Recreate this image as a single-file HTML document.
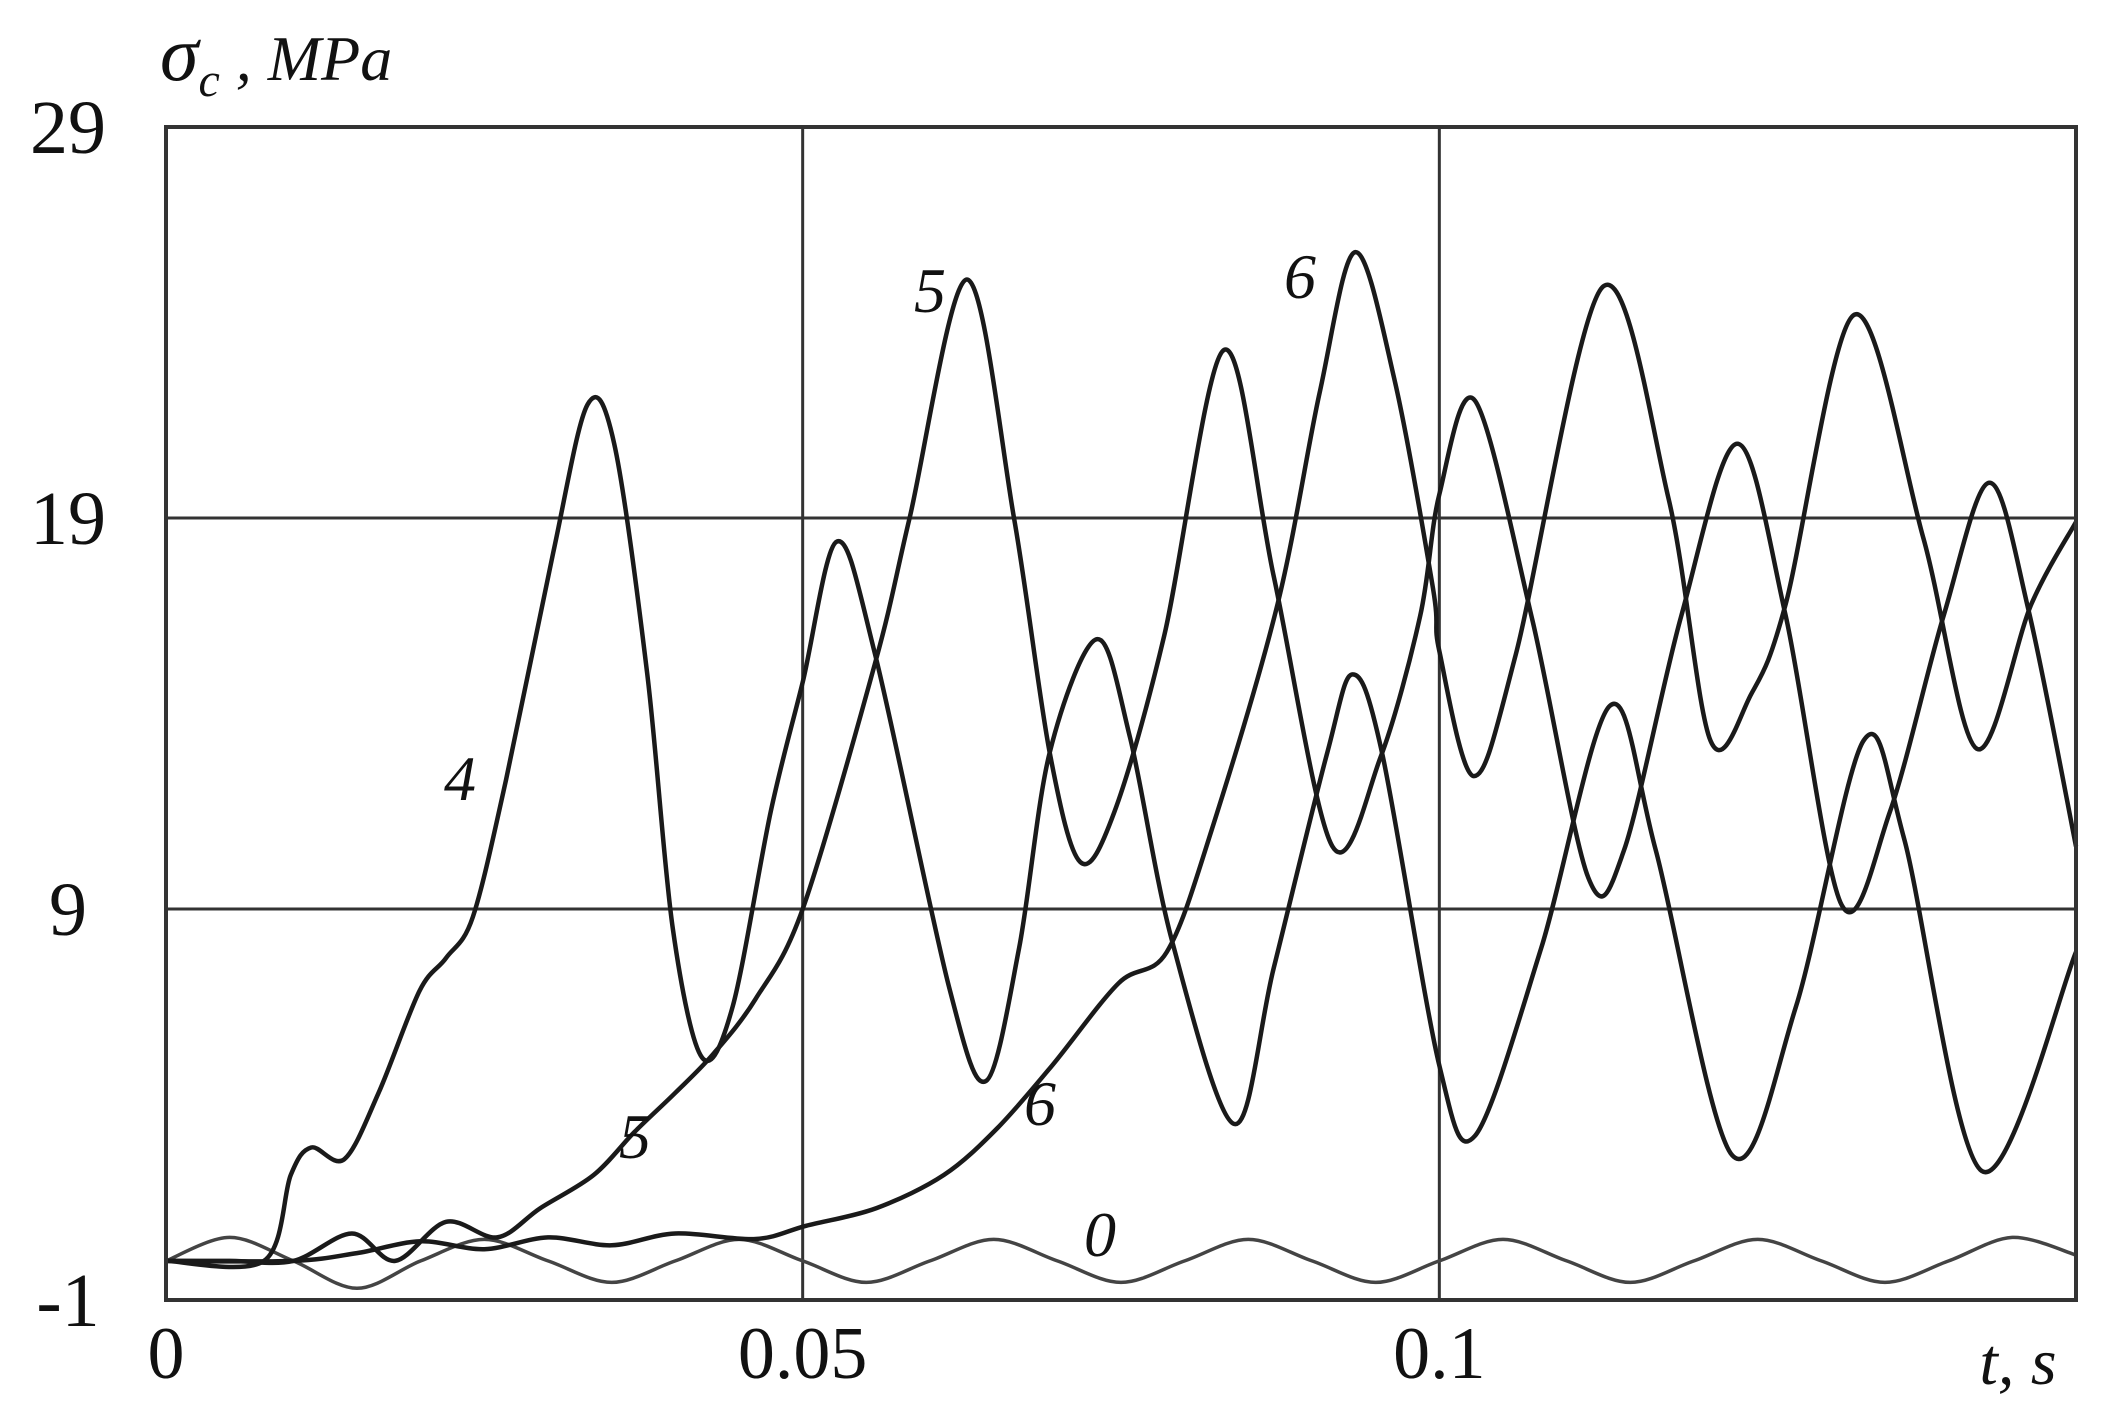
<!DOCTYPE html>
<html><head><meta charset="utf-8"><style>
html,body{margin:0;padding:0;background:#fff;}
svg{display:block;}
text{font-family:"Liberation Serif",serif;fill:#111;}
</style></head><body>
<svg id="chart" width="2113" height="1416" viewBox="0 0 2113 1416" xmlns="http://www.w3.org/2000/svg">
<g id="grid"></g>
<g id="series"></g>
<rect x="166" y="127" width="1910" height="1173" fill="none" stroke="#333" stroke-width="4"/>
<g id="ticks"></g>
<text x="160" y="80" font-size="78" font-style="italic">σ<tspan font-size="48" dy="16">c</tspan><tspan font-size="64" dy="-16"> , MPa</tspan></text>
<text x="2018" y="1384" font-size="66" font-style="italic" text-anchor="middle">t, s</text>
<g font-style="italic" font-size="64">
<text x="460" y="800" text-anchor="middle">4</text>
<text x="930" y="312" text-anchor="middle">5</text>
<text x="1300" y="298" text-anchor="middle">6</text>
<text x="635" y="1158" text-anchor="middle">5</text>
<text x="1040" y="1125" text-anchor="middle">6</text>
<text x="1100" y="1256" text-anchor="middle">0</text>
</g>
</svg>
<script>
const xTicks=[0,0.05,0.1];
const xTickLabels=["0","0.05","0.1"];
const yTicks=[29,19,9,-1];
const yTickLabels=["29","19","9","-1"];
const t0=[0,0.005,0.01,0.015,0.02,0.025,0.03,0.035,0.04,0.045,0.05,0.055,0.06,0.065,0.07,0.075,0.08,0.085,0.09,0.095,0.1,0.105,0.11,0.115,0.12,0.125,0.13,0.135,0.14,0.145,0.15];
const v0=[0,0.6,0,-0.7,0,0.55,0,-0.55,0,0.55,0,-0.55,0,0.55,0,-0.55,0,0.55,0,-0.55,0,0.55,0,-0.55,0,0.55,0,-0.55,0,0.6,0.15];
const t4=[0,0.0077,0.0098,0.0114,0.014,0.0167,0.0199,0.022,0.0241,0.0267,0.0304,0.0331,0.0352,0.0378,0.0398,0.0421,0.0445,0.0475,0.05,0.0527,0.0557,0.0615,0.0644,0.067,0.0694,0.0731,0.0757,0.079,0.0839,0.087,0.0912,0.0932,0.0955,0.1,0.1028,0.108,0.1134,0.117,0.123,0.128,0.1333,0.1365,0.1426,0.15];
const v4=[0,0,2.2,2.9,2.6,4.3,6.9,7.75,8.8,12.3,18.1,21.9,20.9,15,8.5,5.2,6.5,11.5,14.8,18.4,15.5,7,4.6,8,13,15.9,13.4,8.2,3.5,7.5,13,15,13,5,3.2,8,14.2,10.5,2.7,6.5,13.3,10.8,2.3,7.9];
const t5=[0,0.005,0.01,0.0146,0.018,0.022,0.026,0.0294,0.0336,0.0368,0.04,0.043,0.0463,0.05,0.0557,0.0584,0.0629,0.0666,0.0694,0.0718,0.0745,0.0784,0.0831,0.087,0.0916,0.0954,0.0985,0.1,0.1028,0.1073,0.1117,0.1145,0.119,0.1234,0.1272,0.1316,0.1354,0.1396,0.1432,0.1463,0.15];
const v5=[0,0,0,0.7,0,1,0.6,1.35,2.2,3.3,4.3,5.3,6.7,9,15.3,19,25.1,19,13,10.2,11.5,16,23.3,17.5,10.6,12.9,16.5,19.6,22,16.4,9.8,10.5,16.5,20.9,16.5,9.1,11.5,16.5,19.9,16.6,10.6];
const t6=[0,0.01,0.015,0.02,0.025,0.03,0.035,0.04,0.0463,0.0503,0.0558,0.0611,0.0653,0.0696,0.0748,0.0786,0.0821,0.0873,0.0906,0.0934,0.0965,0.0995,0.1,0.1027,0.106,0.1128,0.118,0.1213,0.1245,0.1272,0.1326,0.138,0.1422,0.1465,0.15];
const v6=[0,0,0.2,0.5,0.3,0.6,0.4,0.7,0.56,0.9,1.35,2.2,3.4,5,7.1,7.9,11,16.8,22.2,25.8,22.5,17.2,15.6,12.4,15.5,24.9,19.5,13.3,14.5,16.8,24.2,18.5,13.1,16.8,18.9];

const X0=166,X1=2076,Y0=1300,Y1=127;
function xs(t){return X0+(t-0)/(0.15-0)*(X1-X0);}
function ys(v){return Y0-(v-(-1))/(29-(-1))*(Y0-Y1);}
const NS="http://www.w3.org/2000/svg";
const grid=document.getElementById('grid'),ticks=document.getElementById('ticks'),series=document.getElementById('series');
xTicks.forEach((t,i)=>{
 if(t>0){const l=document.createElementNS(NS,'line');
 
 
 l.setAttribute('x1',xs(t));l.setAttribute('x2',xs(t));l.setAttribute('y1',Y1);l.setAttribute('y2',Y0);
 l.setAttribute('stroke','#333');l.setAttribute('stroke-width','3');grid.appendChild(l);}
 const tx=document.createElementNS(NS,'text');
 
 
 tx.setAttribute('x',xs(t));tx.setAttribute('y',1378);tx.setAttribute('font-size','74');tx.setAttribute('text-anchor','middle');
 tx.textContent=xTickLabels[i];ticks.appendChild(tx);
});
yTicks.forEach((v,i)=>{
 if(v>-1&&v<29){const l=document.createElementNS(NS,'line');
 
 
 l.setAttribute('x1',X0);l.setAttribute('x2',X1);l.setAttribute('y1',ys(v));l.setAttribute('y2',ys(v));
 l.setAttribute('stroke','#333');l.setAttribute('stroke-width','3');grid.appendChild(l);}
 const tx=document.createElementNS(NS,'text');
 
 
 tx.setAttribute('x',68);tx.setAttribute('y',ys(v)+26);tx.setAttribute('font-size','76');tx.setAttribute('text-anchor','middle');
 tx.textContent=yTickLabels[i];ticks.appendChild(tx);
});
function pathFor(T,V){
 const p=T.map((t,i)=>[xs(t),ys(V[i])]);
 let d='M'+p[0][0].toFixed(1)+','+p[0][1].toFixed(1);
 for(let i=0;i<p.length-1;i++){
  const a=p[Math.max(0,i-1)],b=p[i],c=p[i+1],e=p[Math.min(p.length-1,i+2)];
  const k=0.16;
  const c1=[b[0]+(c[0]-a[0])*k,b[1]+(c[1]-a[1])*k];
  const c2=[c[0]-(e[0]-b[0])*k,c[1]-(e[1]-b[1])*k];
  d+=' C'+c1[0].toFixed(1)+','+c1[1].toFixed(1)+' '+c2[0].toFixed(1)+','+c2[1].toFixed(1)+' '+c[0].toFixed(1)+','+c[1].toFixed(1);
 }
 return d;
}
function addSeries(T,V,name,w,col){
 const p=document.createElementNS(NS,'path');
 
 
 p.setAttribute('d',pathFor(T,V));p.setAttribute('fill','none');
 p.setAttribute('stroke',col);p.setAttribute('stroke-width',w);p.setAttribute('stroke-linejoin','round');
 series.appendChild(p);
}
addSeries(t0,v0,'curve-0',3.5,'#444');
addSeries(t6,v6,'curve-6',4.5,'#1a1a1a');
addSeries(t5,v5,'curve-5',4.5,'#1a1a1a');
addSeries(t4,v4,'curve-4',4.5,'#1a1a1a');
</script>
</body></html>
